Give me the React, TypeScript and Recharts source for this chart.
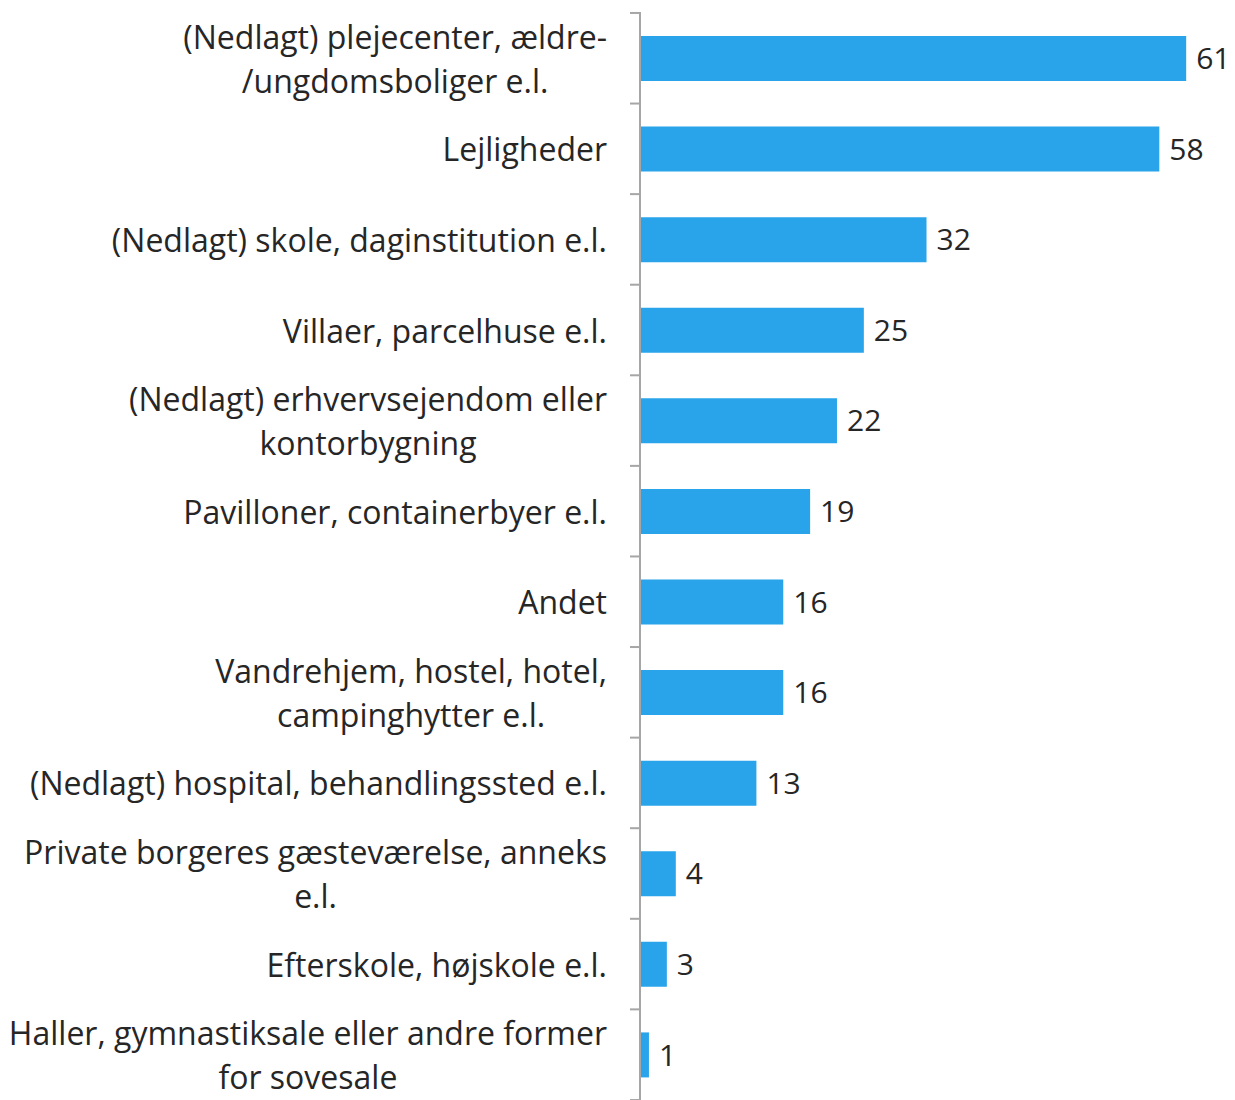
import React from 'react';
import { BarChart, Bar, XAxis, YAxis, LabelList } from 'recharts';

const categories = [
  '(Nedlagt) plejecenter, ældre-\n/ungdomsboliger e.l.',
  'Lejligheder',
  '(Nedlagt) skole, daginstitution e.l.',
  'Villaer, parcelhuse e.l.',
  '(Nedlagt) erhvervsejendom eller\nkontorbygning',
  'Pavilloner, containerbyer e.l.',
  'Andet',
  'Vandrehjem, hostel, hotel,\ncampinghytter e.l.',
  '(Nedlagt) hospital, behandlingssted e.l.',
  'Private borgeres gæsteværelse, anneks\ne.l.',
  'Efterskole, højskole e.l.',
  'Haller, gymnastiksale eller andre former\nfor sovesale',
];
const values = [61, 58, 32, 25, 22, 19, 16, 16, 13, 4, 3, 1];

const data = categories.map((c, i) => ({ name: c, value: values[i] }));

const FONT = '"Open Sans", sans-serif';
const FONT_SIZE = 32;
const TEXT_COLOR = '#262626';
const AXIS_COLOR = '#a6a6a6';
const BAND = 1088 / categories.length;

let ctx: CanvasRenderingContext2D | null = null;
function measure(t: string) {
  if (!ctx) {
    const c = document.createElement('canvas');
    ctx = c.getContext('2d');
  }
  if (!ctx) return t.length * FONT_SIZE * 0.5;
  ctx.font = `${FONT_SIZE}px "Open Sans"`;
  return ctx.measureText(t).width;
}

const CatTick = (props: any) => {
  const { x, y, payload, index } = props;
  const lines: string[] = String(payload.value).split('\n');
  const maxW = Math.max(...lines.map(measure));
  const right = x - 27;
  const cx = right - maxW / 2;
  const lh = 44;
  const startY = y - ((lines.length - 1) * lh) / 2;
  const axisX = x + 7;
  return (
    <g>
      <line x1={axisX - 11} x2={axisX} y1={y - BAND / 2} y2={y - BAND / 2} stroke={AXIS_COLOR} strokeWidth={2} />
      {index === categories.length - 1 && (
        <line x1={axisX - 11} x2={axisX} y1={y + BAND / 2} y2={y + BAND / 2} stroke={AXIS_COLOR} strokeWidth={2} />
      )}
      {lines.map((l, i) => (
        <text
          key={i}
          x={cx}
          y={startY + i * lh}
          textAnchor="middle"
          dominantBaseline="central"
          fontFamily={FONT}
          fontSize={FONT_SIZE}
          fill={TEXT_COLOR}
        >
          {l}
        </text>
      ))}
    </g>
  );
};

export default function App() {
  return (
    <div style={{ position: 'absolute', left: 0, top: 0, width: 1235, height: 1100, background: '#fff' }}>
      <BarChart
        width={1235}
        height={1100}
        data={data}
        layout="vertical"
        margin={{ top: 13, right: 13, bottom: 0, left: 0 }}
        barCategoryGap={0}
      >
        <XAxis type="number" domain={[0, 65]} hide />
        <YAxis
          type="category"
          dataKey="name"
          width={640}
          tickLine={false}
          axisLine={{ stroke: AXIS_COLOR, strokeWidth: 2 }}
          tick={<CatTick />}
          interval={0}
          tickMargin={0}
        />
        <Bar dataKey="value" fill="#29a4ea" barSize={45} isAnimationActive={false}>
          <LabelList
            dataKey="value"
            position="right"
            offset={10}
            fontFamily={FONT}
            fontSize={FONT_SIZE - 2}
            fill={TEXT_COLOR}
          />
        </Bar>
      </BarChart>
    </div>
  );
}
